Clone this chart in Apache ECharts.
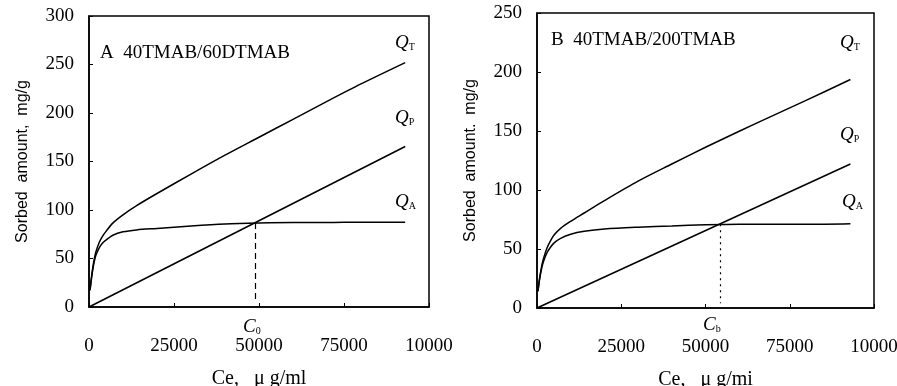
<!DOCTYPE html>
<html>
<head>
<meta charset="utf-8">
<script src="https://cdn.jsdelivr.net/npm/echarts@6/dist/echarts.min.js"></script>
<style>
  html, body { margin: 0; padding: 0; background: #fff; }
  #chart { width: 897px; height: 386px; }
</style>
</head>
<body>
<div id="chart"></div>
<script>
// Ce values (ug/ml) shared by the curves
const ceValues = [300, 600, 1000, 1500, 2000, 3000, 4000, 5000, 7000, 10000, 14000, 20000, 30000, 40000, 50000, 60000, 70000, 80000, 93000];

// panel A: 40TMAB/60DTMAB
const aQT = [17.5, 27, 38, 48.5, 56.5, 66.5, 73, 78, 86.5, 95, 104.5, 117, 137, 156.5, 175, 193.5, 212, 230, 252];
const aQA = [17, 26, 36, 46, 53, 61, 66, 69, 74, 77.5, 79.5, 81, 83.5, 85.5, 86.5, 87, 87, 87.5, 87.5];
const aQP = [[0, 0], [93000, 165.5]];
const aCross = [49000, 86.5];

// panel B: 40TMAB/200TMAB
const bQT = [14.4, 21.8, 29.3, 37, 42.6, 51, 56.8, 61.6, 67.5, 73.5, 80.5, 91, 107.5, 122, 136.2, 149.8, 163, 176.2, 193.6];
const bQA = [14, 21, 28, 35, 40, 47, 51.5, 55, 59, 62.5, 65, 67, 68.5, 69.5, 70.5, 71, 71, 71, 71.5];
const bQP = [[0, 0], [93000, 122]];
const bCross = [54300, 71];

const xTickLabels = ['0', '25000', '50000', '75000', '10000'];

const serif = 'Liberation Serif';
const sans = 'Liberation Sans';

function pairs(ys) {
  return ceValues.map((x, i) => [x, ys[i]]);
}

function xAxisFor(grid, name) {
  return {
    gridIndex: grid,
    type: 'value',
    min: 0,
    max: 100000,
    interval: 25000,
    name: name,
    nameLocation: 'middle',
    nameGap: 62,
    nameTextStyle: { fontFamily: serif, fontSize: 20, color: '#000' },
    axisLine: { lineStyle: { color: '#000', width: 1.5 } },
    axisTick: { inside: true, length: 4, lineStyle: { color: '#000' } },
    axisLabel: {
      margin: 30,
      fontFamily: serif,
      fontSize: 19,
      color: '#000',
      formatter: (v) => xTickLabels[Math.round(v / 25000)]
    },
    splitLine: { show: false }
  };
}

function yAxisFor(grid, max, name) {
  return {
    gridIndex: grid,
    type: 'value',
    min: 0,
    max: max,
    interval: 50,
    name: name,
    nameLocation: 'middle',
    nameGap: 58,
    nameTextStyle: { fontFamily: sans, fontSize: 16, color: '#000' },
    axisLine: { show: true, lineStyle: { color: '#000', width: 1.5 } },
    axisTick: { show: true, inside: true, length: 4, lineStyle: { color: '#000' } },
    axisLabel: { margin: 15, fontFamily: serif, fontSize: 19, color: '#000' },
    splitLine: { show: false }
  };
}

function curve(grid, data, extra) {
  return Object.assign({
    type: 'line',
    xAxisIndex: grid,
    yAxisIndex: grid,
    data: data,
    showSymbol: false,
    smooth: 0.3,
    lineStyle: { color: '#000', width: 1.5 },
    silent: true
  }, extra || {});
}

function dropLine(cross, type) {
  return {
    silent: true,
    symbol: 'none',
    label: { show: false },
    lineStyle: { color: '#000', width: 1.2, type: type },
    data: [[{ coord: [cross[0], cross[1]] }, { coord: [cross[0], 4] }]]
  };
}

const qRich = {
  q: { fontFamily: serif, fontStyle: 'italic', fontSize: 19, color: '#000' },
  s: { fontFamily: serif, fontSize: 10, color: '#000', padding: [9, 0, 0, 0] }
};

function qLabel(x, y, main, sub) {
  return {
    type: 'text',
    x: x,
    y: y,
    style: { text: '{q|' + main + '}{s|' + sub + '}', rich: qRich, verticalAlign: 'middle' }
  };
}

function panelTitle(x, y, text) {
  return {
    type: 'text',
    x: x,
    y: y,
    style: { text: text, fontFamily: serif, fontSize: 19, fill: '#000', verticalAlign: 'middle' }
  };
}

const chart = echarts.init(document.getElementById('chart'));
chart.setOption({
  backgroundColor: '#fff',
  animation: false,
  grid: [
    { left: 89, top: 16, width: 340, height: 291, outerBoundsMode: 'none', containLabel: false, show: true, borderColor: '#000', borderWidth: 1.5, backgroundColor: 'transparent' },
    { left: 537, top: 13, width: 337, height: 295, outerBoundsMode: 'none', containLabel: false, show: true, borderColor: '#000', borderWidth: 1.5, backgroundColor: 'transparent' }
  ],
  xAxis: [xAxisFor(0, 'Ce,   \u03bc g/ml'), xAxisFor(1, 'Ce,   \u03bc g/mi')],
  yAxis: [yAxisFor(0, 300, 'Sorbed  amount,  mg/g'), yAxisFor(1, 250, 'Sorbed  amount.  mg/g')],
  series: [
    curve(0, pairs(aQT)),
    curve(0, pairs(aQA), { markLine: dropLine(aCross, [6, 4]) }),
    curve(0, aQP, { smooth: false }),
    curve(1, pairs(bQT)),
    curve(1, pairs(bQA), { markLine: dropLine(bCross, [2, 4]) }),
    curve(1, bQP, { smooth: false })
  ],
  graphic: [
    panelTitle(100, 53, 'A  40TMAB/60DTMAB'),
    panelTitle(551, 40, 'B  40TMAB/200TMAB'),
    qLabel(395, 43, 'Q', 'T'),
    qLabel(395, 118, 'Q', 'P'),
    qLabel(395, 202, 'Q', 'A'),
    qLabel(840, 43, 'Q', 'T'),
    qLabel(840, 135, 'Q', 'P'),
    qLabel(842, 202, 'Q', 'A'),
    qLabel(243, 327, 'C', '0'),
    qLabel(703, 325, 'C', 'b')
  ]
});
</script>
</body>
</html>
